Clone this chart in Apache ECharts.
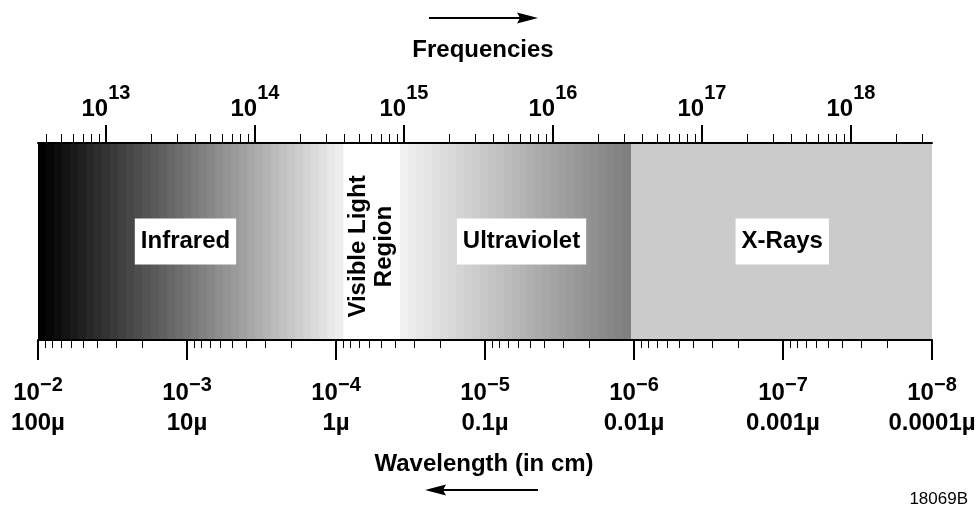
<!DOCTYPE html>
<html>
<head>
<meta charset="utf-8">
<script src="https://cdn.jsdelivr.net/npm/echarts@6/dist/echarts.min.js"></script>
<style>html,body{margin:0;padding:0;background:#fff}#c{width:977px;height:508px}</style>
</head>
<body>
<div id="c"></div>
<script>
// ---- data (log10 units) ----
const wavelengthExponents = [-2, -3, -4, -5, -6, -7, -8];           // log10(wavelength in cm)
const micronLabels = ['100µ', '10µ', '1µ', '0.1µ', '0.01µ', '0.001µ', '0.0001µ'];
const frequencyExponents = [13, 14, 15, 16, 17, 18];               // log10(frequency)
const frequencyAtLeftEdge = 12.544;                                  // log10 f at wavelength 10^-2 cm
const regionNames = ['Infrared', 'Visible Light\nRegion', 'Ultraviolet', 'X-Rays'];
const regionStart = [-2, -4.05, -4.43, -5.98];
const regionEnd = [-4.05, -4.43, -5.98, -8];
const regionLabelAt = [-2.99, -4.235, -5.245, -6.995];

// ---- styling ----
const FONT = 'Liberation Sans';
const shades = [
  { from: [0, 0, 0], to: [238, 238, 238], steps: 38 },
  { from: [255, 255, 255], to: [255, 255, 255], steps: 1 },
  { from: [240, 240, 240], to: [127, 127, 127], steps: 29 },
  { from: [203, 203, 203], to: [203, 203, 203], steps: 1 }
];

function steppedGradient(sh) {
  const stops = [];
  for (let j = 0; j < sh.steps; j++) {
    const t = sh.steps === 1 ? 0 : j / (sh.steps - 1);
    const c = sh.from.map((f, k) => Math.round(f + (sh.to[k] - f) * t));
    const col = 'rgb(' + c.join(',') + ')';
    stops.push({ offset: j / sh.steps, color: col });
    stops.push({ offset: (j + 1) / sh.steps, color: col });
  }
  return new echarts.graphic.LinearGradient(0, 0, 1, 0, stops);
}

function minorLogTicks(lo, hi) {
  const out = [];
  for (let n = Math.floor(lo) - 1; n <= Math.ceil(hi); n++) {
    for (let k = 2; k <= 9; k++) {
      const v = n + Math.log10(k);
      if (v > lo + 1e-9 && v < hi - 1e-9) out.push(v);
    }
  }
  return out;
}

const wlMin = Math.min(...wavelengthExponents), wlMax = Math.max(...wavelengthExponents);
const fMin = frequencyAtLeftEdge, fMax = frequencyAtLeftEdge + (wlMax - wlMin);

const txt = { fontFamily: FONT, fontWeight: 'bold', color: '#000' };

const chart = echarts.init(document.getElementById('c'), null, { renderer: 'canvas' });

chart.setOption({
  animation: false,
  backgroundColor: '#fff',
  grid: { left: 38, right: 45, top: 143, bottom: 168, containLabel: false, outerBoundsMode: 'none' },
  xAxis: [
    {
      type: 'value', position: 'bottom', min: wlMin, max: wlMax, inverse: true, z: 10,
      axisLine: { show: true, onZero: false, lineStyle: { color: '#000', width: 2 } },
      axisTick: { show: true, length: 20, customValues: wavelengthExponents, lineStyle: { color: '#000', width: 2 } },
      splitLine: { show: false },
      axisLabel: {
        show: true, customValues: wavelengthExponents, margin: 35,
        formatter: v => {
          const e = Math.round(v);
          const i = wavelengthExponents.indexOf(e);
          return '{b|10}{s|\u2212' + (-e) + '}\n{m|' + micronLabels[i] + '}';
        },
        rich: {
          b: Object.assign({ fontSize: 24, lineHeight: 30, verticalAlign: 'bottom' }, txt),
          s: Object.assign({ fontSize: 20, lineHeight: 20, verticalAlign: 'top' }, txt),
          m: Object.assign({ fontSize: 24, lineHeight: 36 }, txt)
        }
      }
    },
    {
      type: 'value', position: 'bottom', min: wlMin, max: wlMax, inverse: true, z: 10,
      axisLine: { show: false, onZero: false },
      axisTick: { show: true, length: 8, customValues: minorLogTicks(wlMin, wlMax), lineStyle: { color: '#000', width: 1 } },
      axisLabel: { show: false },
      splitLine: { show: false }
    },
    {
      type: 'value', position: 'top', min: fMin, max: fMax, z: 10,
      axisLine: { show: true, onZero: false, lineStyle: { color: '#000', width: 2 } },
      axisTick: { show: true, length: 18, customValues: frequencyExponents, lineStyle: { color: '#000', width: 2 } },
      splitLine: { show: false },
      axisLabel: {
        show: true, customValues: frequencyExponents, margin: 22,
        formatter: v => '{b|10}{s|' + Math.round(v) + '}',
        rich: {
          b: Object.assign({ fontSize: 24, lineHeight: 38, verticalAlign: 'bottom' }, txt),
          s: Object.assign({ fontSize: 20, lineHeight: 21, verticalAlign: 'top' }, txt)
        }
      }
    },
    {
      type: 'value', position: 'top', min: fMin, max: fMax, z: 10,
      axisLine: { show: false, onZero: false },
      axisTick: { show: true, length: 9, customValues: minorLogTicks(fMin, fMax), lineStyle: { color: '#000', width: 1 } },
      axisLabel: { show: false },
      splitLine: { show: false }
    }
  ],
  yAxis: { type: 'value', min: 0, max: 1, show: false },
  series: [
    {
      type: 'custom', xAxisIndex: 0, yAxisIndex: 0, z: 1, clip: false, silent: true,
      data: regionNames.map((n, i) => [regionStart[i], regionEnd[i], i]),
      encode: { x: [0, 1] },
      renderItem: (params, api) => {
        const i = api.value(2);
        const a = api.coord([api.value(0), 1]);
        const b = api.coord([api.value(1), 0]);
        const x0 = Math.min(a[0], b[0]), x1 = Math.max(a[0], b[0]);
        const y0 = Math.min(a[1], b[1]), y1 = Math.max(a[1], b[1]);
        return {
          type: 'rect',
          shape: { x: x0, y: y0 + 1, width: x1 - x0, height: y1 - y0 - 2 },
          style: { fill: steppedGradient(shades[i]) }
        };
      }
    },
    {
      type: 'custom', xAxisIndex: 0, yAxisIndex: 0, z: 3, clip: false, silent: true,
      data: regionLabelAt.map((x, i) => [x, 0.5, i]),
      encode: { x: 0, y: 1 },
      renderItem: (params, api) => {
        const i = api.value(2);
        const p = api.coord([api.value(0), api.value(1)]);
        if (i === 1) {
          return {
            type: 'text', x: p[0], y: p[1] + 5, rotation: Math.PI / 2,
            style: { text: regionNames[i], align: 'center', verticalAlign: 'middle', fontFamily: FONT, fontWeight: 'bold', fontSize: 24, lineHeight: 26, fill: '#000' }
          };
        }
        return {
          type: 'text', x: p[0], y: p[1],
          style: { text: regionNames[i], align: 'center', verticalAlign: 'middle', fontFamily: FONT, fontWeight: 'bold', fontSize: 24, fill: '#000', backgroundColor: '#fff', padding: [11, 6] }
        };
      }
    }
  ],
  graphic: [
    { type: 'text', x: 483, y: 50, style: { text: 'Frequencies', align: 'center', verticalAlign: 'middle', fontFamily: FONT, fontWeight: 'bold', fontSize: 24, fill: '#000' } },
    { type: 'line', shape: { x1: 429, y1: 18, x2: 522, y2: 18 }, style: { stroke: '#000', lineWidth: 2 } },
    { type: 'polygon', shape: { points: [[538, 18], [517, 12.5], [520, 18], [517, 23.5]] }, style: { fill: '#000' } },
    { type: 'text', x: 484, y: 464, style: { text: 'Wavelength (in cm)', align: 'center', verticalAlign: 'middle', fontFamily: FONT, fontWeight: 'bold', fontSize: 24, fill: '#000' } },
    { type: 'line', shape: { x1: 441, y1: 490, x2: 538, y2: 490 }, style: { stroke: '#000', lineWidth: 2 } },
    { type: 'polygon', shape: { points: [[425, 490], [446, 484.5], [443, 490], [446, 495.5]] }, style: { fill: '#000' } },
    { type: 'text', x: 968, y: 499, style: { text: '18069B', align: 'right', verticalAlign: 'middle', fontFamily: FONT, fontSize: 17, fill: '#000' } }
  ]
});
</script>
</body>
</html>
